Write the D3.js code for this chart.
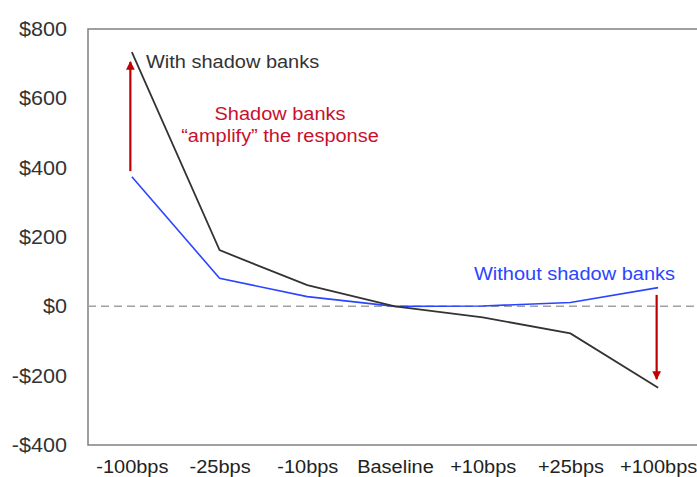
<!DOCTYPE html>
<html>
<head>
<meta charset="utf-8">
<script src="https://cdn.jsdelivr.net/npm/d3@7"></script>
<style>
  html, body { margin: 0; padding: 0; background: #fff; }
  svg { display: block; font-family: "Liberation Sans", Arial, sans-serif; }
</style>
</head>
<body>
<svg id="chart" width="697" height="477"></svg>
<script>
// Rate-shock scenarios along the x axis
const scenarios = ["-100bps", "-25bps", "-10bps", "Baseline", "+10bps", "+25bps", "+100bps"];
// Response in dollars, with and without shadow banks
const withShadow    = [733, 162, 61, 0, -32, -78, -235];
const withoutShadow = [374, 81, 28, 0, 1, 11, 54];
// Y axis ticks
const yTicks = [-400, -200, 0, 200, 400, 600, 800];
// Annotation arrows: [scenario, from value, to value]
const arrows = [["-100bps", 390, 705], ["+100bps", 33, -210]];

const svg = d3.select("#chart");
const plotLeft = 88, plotTop = 29, plotBottom = 445, plotRight = 702;
const stretch = "scale(1.08,1)";   // slightly wide lettering

const x = d3.scalePoint().domain(scenarios).range([plotLeft, plotRight]).padding(0.5);
const y = d3.scaleLinear().domain([-400, 800]).range([plotBottom, plotTop]);

// Frame
svg.append("path")
  .attr("d", `M${plotRight},${plotTop}H${plotLeft}V${plotBottom}H${plotRight}`)
  .attr("fill", "none").attr("stroke", "#808080").attr("stroke-width", 1.5);

// Y axis labels
const yAxis = d3.axisLeft(y).tickValues(yTicks).tickSize(0).tickPadding(19.5)
  .tickFormat(d => (d < 0 ? "-$" : "$") + Math.abs(d));
svg.append("g").attr("transform", `translate(${plotLeft},0)`).call(yAxis)
  .call(g => g.select(".domain").remove())
  .selectAll("text").attr("font-size", 20).attr("fill", "#333")
  .attr("font-family", "Liberation Sans, Arial, sans-serif")
  .attr("transform", stretch);

// X axis labels
const xAxis = d3.axisBottom(x).tickSize(0).tickPadding(15);
svg.append("g").attr("transform", `translate(0,${plotBottom})`).call(xAxis)
  .call(g => g.select(".domain").remove())
  .selectAll("text").attr("font-size", 18.5).attr("fill", "#222")
  .attr("font-family", "Liberation Sans, Arial, sans-serif")
  .attr("transform", stretch);

// Zero reference line
svg.append("line")
  .attr("x1", plotLeft).attr("x2", plotRight).attr("y1", y(0)).attr("y2", y(0))
  .attr("stroke", "#a0a0a0").attr("stroke-width", 1.5).attr("stroke-dasharray", "8,5");

const line = d3.line().x((d, i) => x(scenarios[i])).y(d => y(d));

svg.append("path").datum(withoutShadow).attr("d", line)
  .attr("fill", "none").attr("stroke", "#2b45ff").attr("stroke-width", 1.6);
svg.append("path").datum(withShadow).attr("d", line)
  .attr("fill", "none").attr("stroke", "#333").attr("stroke-width", 1.8);

// Arrow markers
svg.append("defs").append("marker")
  .attr("id", "head").attr("viewBox", "0 0 10 10").attr("refX", 9).attr("refY", 5)
  .attr("markerWidth", 4).attr("markerHeight", 4).attr("orient", "auto")
  .attr("markerUnits", "strokeWidth")
  .append("path").attr("d", "M0,0L10,5L0,10Z").attr("fill", "#c00000");

svg.selectAll(".arrow").data(arrows).join("line").attr("class", "arrow")
  .attr("x1", d => x(d[0]) - 1.5).attr("x2", d => x(d[0]) - 1.5)
  .attr("y1", d => y(d[1])).attr("y2", d => y(d[2]))
  .attr("stroke", "#c00000").attr("stroke-width", 2.2)
  .attr("marker-end", "url(#head)");

// Labels
function label(px, py, txt, color, anchor) {
  svg.append("g").attr("transform", `translate(${px},${py})`)
    .append("text").attr("transform", stretch)
    .attr("text-anchor", anchor || "start")
    .attr("font-size", 18.5).attr("fill", color).text(txt);
}
label(146, 68, "With shadow banks", "#333");
label(280, 120, "Shadow banks", "#c8102e", "middle");
label(280, 142, "\u201camplify\u201d the response", "#c8102e", "middle");
label(474, 279.5, "Without shadow banks", "#2b45ff");
</script>
</body>
</html>
